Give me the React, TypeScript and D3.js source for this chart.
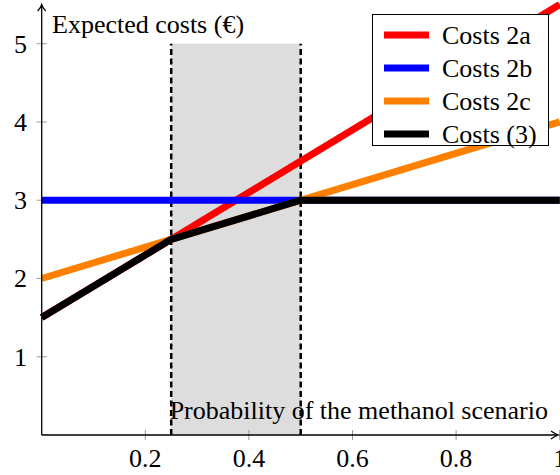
import * as d3 from 'd3'

const xTicks = [0.2, 0.4, 0.6, 0.8, 1]
const yTicks = [1, 2, 3, 4, 5]

// each series as [probability, cost] points
const costs2a: [number, number][] = [[0, 1.5], [1, 5.5]]
const costs2b: [number, number][] = [[0, 3], [1, 3]]
const costs2c: [number, number][] = [[0, 2], [1, 4]]
const costs3: [number, number][] = [[0, 1.5], [0.25, 2.5], [0.5, 3], [1, 3]]

const bandRange = [0.25, 0.5]
const bandTop = 5

const seriesNames = ['Costs 2a', 'Costs 2b', 'Costs 2c', 'Costs (3)']
const seriesColors = ['#ff0000', '#0000ff', '#ff8000', '#000000']

const width = 560
const height = 475
const fam = 'Liberation Serif'

export default function App() {
    const x = d3.scaleLinear().domain([0, 1]).range([41.7, 559.7])
    const y = d3.scaleLinear().domain([0, 5]).range([435, 43.7])

    const line = d3
        .line<[number, number]>()
        .x((d) => x(d[0]))
        .y((d) => y(d[1]))

    const series = [costs2a, costs2b, costs2c, costs3]
    const x0 = x(0)
    const y0 = y(0)

    return (
        <svg width={width} height={height} fontFamily={fam} fontSize={26} style={{ position: 'absolute', left: 0, top: 0, background: '#fff' }}>
            {/* shaded band */}
            <rect
                x={x(bandRange[0])}
                y={y(bandTop)}
                width={x(bandRange[1]) - x(bandRange[0])}
                height={y(0) - y(bandTop)}
                fill="#dddddd"
            />

            {/* ticks */}
            {xTicks.map((t) => (
                <line key={'xt' + t} x1={x(t)} x2={x(t)} y1={y0 - 5} y2={y0 + 5} stroke="#999" strokeWidth={1} />
            ))}
            {yTicks.map((t) => (
                <line key={'yt' + t} x1={x0 - 5} x2={x0 + 5} y1={y(t)} y2={y(t)} stroke="#999" strokeWidth={1} />
            ))}

            {/* axis labels */}
            <text x={52} y={33} fontFamily={fam}>
                Expected costs (€)
            </text>
            <text x={548} y={419} fontFamily={fam} textAnchor="end">
                Probability of the methanol scenario
            </text>

            {/* dashed band borders */}
            {bandRange.map((b) => (
                <line
                    key={'b' + b}
                    x1={x(b)}
                    x2={x(b)}
                    y1={y(0)}
                    y2={y(bandTop)}
                    stroke="#000"
                    strokeWidth={2.5}
                    strokeDasharray="6,3.5"
                />
            ))}

            {/* series */}
            {series.map((s, i) => (
                <path
                    key={seriesNames[i]}
                    d={line(s) ?? ''}
                    fill="none"
                    stroke={seriesColors[i]}
                    strokeWidth={7}
                    strokeLinejoin="round"
                />
            ))}

            {/* axes */}
            <line x1={x0} x2={557} y1={y0} y2={y0} stroke="#000" strokeWidth={1.3} />
            <path d={`M${551},${y0 - 4} Q${555},${y0 - 1} ${558.5},${y0} Q${555},${y0 + 1} ${551},${y0 + 4}`} fill="none" stroke="#000" strokeWidth={1.2} />
            <line x1={x0} x2={x0} y1={y0} y2={6} stroke="#000" strokeWidth={1.3} />
            <path d={`M${x0 - 4},${11} Q${x0 - 1},${8} ${x0},${4.5} Q${x0 + 1},${8} ${x0 + 4},${11}`} fill="none" stroke="#000" strokeWidth={1.2} />

            {/* tick labels */}
            {xTicks.map((t) => (
                <text key={'xl' + t} x={x(t)} y={467} fontFamily={fam} textAnchor="middle">
                    {d3.format('~g')(t)}
                </text>
            ))}
            {yTicks.map((t) => (
                <text key={'yl' + t} x={27} y={y(t) + 9} fontFamily={fam} textAnchor="end">
                    {t}
                </text>
            ))}

            {/* legend */}
            <rect x={372.5} y={14.5} width={176} height={131} fill="#fff" stroke="#000" strokeWidth={1} />
            {seriesNames.map((name, i) => {
                const cy = 35 + i * 33
                return (
                    <g key={'lg' + name}>
                        <line x1={384} x2={429} y1={cy} y2={cy} stroke={seriesColors[i]} strokeWidth={7} />
                        <text x={442} y={cy + 8.5} fontFamily={fam}>
                            {name}
                        </text>
                    </g>
                )
            })}
        </svg>
    )
}
